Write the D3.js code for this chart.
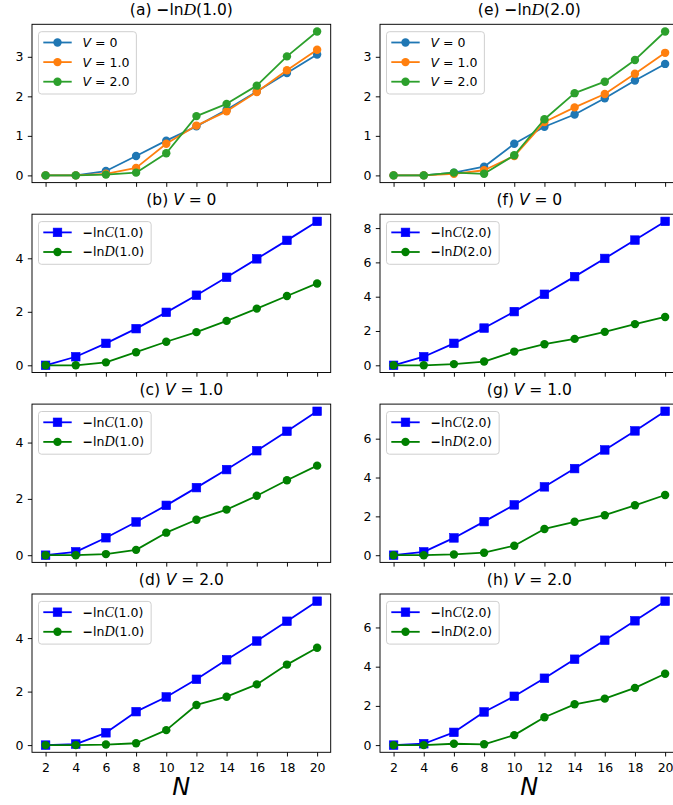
<!DOCTYPE html>
<html>
<head>
<meta charset="utf-8">
<script src="https://cdn.jsdelivr.net/npm/d3@7"></script>
<style>
  body { margin: 0; background: #fff; }
  svg { display: block; font-family: "DejaVu Sans", sans-serif; }
</style>
</head>
<body>
<div id="chart"></div>
<script>
// N values on the x axis
const N = [2, 4, 6, 8, 10, 12, 14, 16, 18, 20];

// -ln D(1.0) and -ln D(2.0) for V = 0, 1.0, 2.0
const D1_V0 = [0, 0, 0.11, 0.49, 0.88, 1.24, 1.66, 2.12, 2.59, 3.06];
const D1_V1 = [0, 0, 0.04, 0.19, 0.80, 1.26, 1.62, 2.11, 2.66, 3.18];
const D1_V2 = [0, 0, 0.02, 0.07, 0.56, 1.50, 1.81, 2.27, 3.01, 3.64];
const D2_V0 = [0, 0, 0.07, 0.22, 0.80, 1.23, 1.54, 1.95, 2.40, 2.82];
const D2_V1 = [0, 0, 0.04, 0.13, 0.49, 1.35, 1.72, 2.06, 2.57, 3.10];
const D2_V2 = [0, 0, 0.07, 0.04, 0.51, 1.42, 2.08, 2.37, 2.92, 3.64];

// -ln C(1.0) and -ln C(2.0)
const C1_V0 = [0, 0.32, 0.82, 1.37, 1.98, 2.62, 3.29, 3.98, 4.67, 5.38];
const C1_V1 = [0, 0.12, 0.62, 1.18, 1.77, 2.40, 3.04, 3.71, 4.40, 5.11];
const C1_V2 = [0, 0.04, 0.46, 1.25, 1.80, 2.46, 3.19, 3.89, 4.63, 5.38];
const C2_V0 = [0, 0.50, 1.28, 2.17, 3.13, 4.14, 5.17, 6.23, 7.30, 8.39];
const C2_V1 = [0, 0.17, 0.89, 1.73, 2.59, 3.52, 4.46, 5.42, 6.40, 7.41];
const C2_V2 = [0, 0.07, 0.65, 1.69, 2.49, 3.41, 4.38, 5.35, 6.34, 7.34];

// y tick labels per panel
const ticksA = [0, 1, 2, 3];
const ticksB = [0, 2, 4];
const ticksF = [0, 2, 4, 6, 8];
const ticksG = [0, 2, 4, 6];

const width = 673, height = 805;
const colLeft = [32, 380];
const axW = 298.7;
const rowTop = [24.3, 214.2, 404.1, 594.0];
const axH = 158.3;

const tab = { blue: "#1f77b4", orange: "#ff7f0e", green: "#2ca02c" };

// text pieces: [string, style]
const vLab = v => [["V", "it"], [" = " + v, ""]];
const lnLab = (L, a) => [["\u2212", "minus"], ["ln", ""], [L, "cal"], ["(" + a + ")", ""]];

const panels = [
  { col: 0, row: 0, title: [["(a) ", ""], ...lnLab("D", "1.0")], yTicks: ticksA, series: [
    { label: vLab("0"), values: D1_V0, color: tab.blue, marker: "circle" },
    { label: vLab("1.0"), values: D1_V1, color: tab.orange, marker: "circle" },
    { label: vLab("2.0"), values: D1_V2, color: tab.green, marker: "circle" }] },
  { col: 0, row: 1, title: [["(b) ", ""], ...vLab("0")], yTicks: ticksB, series: [
    { label: lnLab("C", "1.0"), values: C1_V0, color: "#0000ff", marker: "square" },
    { label: lnLab("D", "1.0"), values: D1_V0, color: "#008000", marker: "circle" }] },
  { col: 0, row: 2, title: [["(c) ", ""], ...vLab("1.0")], yTicks: ticksB, series: [
    { label: lnLab("C", "1.0"), values: C1_V1, color: "#0000ff", marker: "square" },
    { label: lnLab("D", "1.0"), values: D1_V1, color: "#008000", marker: "circle" }] },
  { col: 0, row: 3, title: [["(d) ", ""], ...vLab("2.0")], yTicks: ticksB, series: [
    { label: lnLab("C", "1.0"), values: C1_V2, color: "#0000ff", marker: "square" },
    { label: lnLab("D", "1.0"), values: D1_V2, color: "#008000", marker: "circle" }] },
  { col: 1, row: 0, title: [["(e) ", ""], ...lnLab("D", "2.0")], yTicks: ticksA, series: [
    { label: vLab("0"), values: D2_V0, color: tab.blue, marker: "circle" },
    { label: vLab("1.0"), values: D2_V1, color: tab.orange, marker: "circle" },
    { label: vLab("2.0"), values: D2_V2, color: tab.green, marker: "circle" }] },
  { col: 1, row: 1, title: [["(f) ", ""], ...vLab("0")], yTicks: ticksF, series: [
    { label: lnLab("C", "2.0"), values: C2_V0, color: "#0000ff", marker: "square" },
    { label: lnLab("D", "2.0"), values: D2_V0, color: "#008000", marker: "circle" }] },
  { col: 1, row: 2, title: [["(g) ", ""], ...vLab("1.0")], yTicks: ticksG, series: [
    { label: lnLab("C", "2.0"), values: C2_V1, color: "#0000ff", marker: "square" },
    { label: lnLab("D", "2.0"), values: D2_V1, color: "#008000", marker: "circle" }] },
  { col: 1, row: 3, title: [["(h) ", ""], ...vLab("2.0")], yTicks: ticksG, series: [
    { label: lnLab("C", "2.0"), values: C2_V2, color: "#0000ff", marker: "square" },
    { label: lnLab("D", "2.0"), values: D2_V2, color: "#008000", marker: "circle" }] }
];

const svg = d3.select("#chart").append("svg")
  .attr("width", width).attr("height", height);

function rich(textSel, parts) {
  parts.forEach(([s, st]) => {
    const t = textSel.append("tspan").text(s);
    if (st === "it") t.style("font-style", "italic");
    if (st === "minus") t.style("font-weight", "bold");
    if (st === "cal") t.style("font-family", "'Liberation Serif', serif").style("font-style", "italic").style("font-size", "1.12em");
  });
  return textSel;
}

function drawMarker(g, kind, cx, cy, color) {
  if (kind === "square") {
    g.append("rect").attr("x", cx - 4.3).attr("y", cy - 4.3).attr("width", 8.6).attr("height", 8.6)
      .attr("fill", color).attr("stroke", color).attr("stroke-width", 0.6);
  } else {
    g.append("circle").attr("cx", cx).attr("cy", cy).attr("r", 4.2).attr("fill", color);
  }
}

panels.forEach(p => {
  const g = svg.append("g").attr("transform", `translate(${colLeft[p.col]},${rowTop[p.row]})`);
  const x = d3.scaleLinear().domain([1.1, 20.9]).range([0, axW]);
  const all = p.series.flatMap(s => s.values);
  const lo = d3.min(all), hi = d3.max(all), pad = (hi - lo) * 0.05;
  const y = d3.scaleLinear().domain([lo - pad, hi + pad]).range([axH, 0]);

  const xAxis = d3.axisBottom(x).tickValues(N).tickSize(4.2).tickPadding(7.1)
    .tickFormat(p.row === 3 ? d3.format("d") : () => "");
  const gx = g.append("g").attr("transform", `translate(0,${axH})`).call(xAxis);
  const gy = g.append("g").call(d3.axisLeft(y).tickValues(p.yTicks).tickSize(4.2).tickPadding(4.3).tickFormat(d3.format("d")));
  [gx, gy].forEach(a => {
    a.select(".domain").remove();
    a.selectAll("line").attr("stroke", "#000").attr("stroke-width", 0.95);
    a.selectAll("text").attr("fill", "#000").style("font-size", "12.5px").style("font-family", "'DejaVu Sans', sans-serif");
  });

  const line = d3.line().x((d, i) => x(N[i])).y(d => y(d));
  p.series.forEach(s => {
    g.append("path").datum(s.values).attr("d", line)
      .attr("fill", "none").attr("stroke", s.color).attr("stroke-width", 1.8).attr("stroke-linejoin", "round");
    const mg = g.append("g");
    s.values.forEach((v, i) => drawMarker(mg, s.marker, x(N[i]), y(v), s.color));
  });

  g.append("rect").attr("width", axW).attr("height", axH)
    .attr("fill", "none").attr("stroke", "#000").attr("stroke-width", 0.95);

  // title
  rich(g.append("text").attr("x", axW / 2).attr("y", -9.5).attr("text-anchor", "middle")
    .style("font-size", "15.5px"), p.title);

  // legend
  const lg = g.append("g");
  const box = lg.append("rect").attr("x", 6.5).attr("y", 7.4).attr("rx", 3)
    .attr("fill", "#fff").attr("fill-opacity", 0.8).attr("stroke", "#cccccc").attr("stroke-width", 0.95);
  let maxW = 0;
  p.series.forEach((s, i) => {
    const ly = 18.2 + i * 19.6;
    lg.append("line").attr("x1", 11.3).attr("x2", 39.7).attr("y1", ly).attr("y2", ly)
      .attr("stroke", s.color).attr("stroke-width", 1.8);
    drawMarker(lg, s.marker, 25.5, ly, s.color);
    const t = rich(lg.append("text").attr("x", 50.5).attr("y", ly).attr("dy", "0.36em")
      .style("font-size", "12.5px"), s.label);
    maxW = Math.max(maxW, t.node().getComputedTextLength());
  });
  box.attr("width", 50.5 + maxW + 7 - 6.5).attr("height", 19.6 * p.series.length + 3.5);

  if (p.row === 3) {
    g.append("text").attr("x", axW / 2).attr("y", axH + 43).attr("text-anchor", "middle")
      .style("font-size", "24px").style("font-style", "italic").text("N");
  }
});
</script>
</body>
</html>
